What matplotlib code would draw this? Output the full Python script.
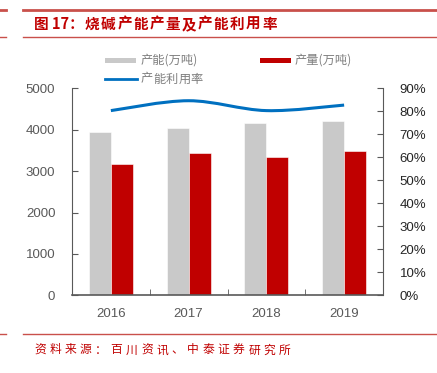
import matplotlib.pyplot as plt
from matplotlib.lines import Line2D
from matplotlib.patches import Rectangle, PathPatch
from matplotlib.path import Path
from matplotlib.ticker import FuncFormatter

plt.rcParams['font.family'] = ['Liberation Sans', 'Noto Sans CJK SC', 'DejaVu Sans']

years = ['2016', '2017', '2018', '2019']
capacity = [3952, 4048, 4155, 4217]      # 产能(万吨)
output = [3179, 3430, 3333, 3486]        # 产量(万吨)
utilization = [0.803, 0.846, 0.803, 0.827]  # 产能利用率

W, H = 437, 373
fig = plt.figure(figsize=(W / 100, H / 100), dpi=100)

def fx(px):
    return px / W

def fy(py):
    return 1 - py / H

cn = ['Noto Sans CJK SC', 'DejaVu Sans']
red_line = '#C9504B'
red_text = '#C00000'


def spaced(x0, y, s, step, **kw):
    # put each character at a fixed pixel advance, like the wide spacing in the source
    for i, ch in enumerate(s):
        fig.text(fx(x0 + i * step), fy(y), ch, family=cn, va='center', ha='left', **kw)


# header / footer rules
for y, lw in [(10, 2.0), (37, 1.0), (334, 1.0)]:
    fig.add_artist(Line2D([fx(23), fx(436)], [fy(y), fy(y)], color=red_line, lw=lw))
    fig.add_artist(Line2D([fx(0), fx(6)], [fy(y), fy(y)], color=red_line, lw=lw))

fig.text(fx(34), fy(24), '图 17：', family=cn, fontsize=10.5,
         fontweight='bold', color=red_text, va='center', ha='left')
spaced(85, 24, '烧碱产能产量及产能利用率', 16.1, fontsize=10.5, fontweight='bold', color=red_text)
spaced(34, 350, '资料来源：百川资讯、中泰证券研究所', 15.3, fontsize=8.5, color=red_text)

# legend
fig.add_artist(Rectangle((fx(105), fy(62.5)), fx(31), 5 / H, color='#C9C9C9', lw=0))
fig.text(fx(141), fy(60), '产能(万吨)', family=cn, fontsize=8.8, color='#7F7F7F', va='center')
fig.add_artist(Rectangle((fx(260), fy(62.5)), fx(31), 5 / H, color='#C00000', lw=0))
fig.text(fx(295), fy(60), '产量(万吨)', family=cn, fontsize=8.8, color='#7F7F7F', va='center')
fig.add_artist(Line2D([fx(105), fx(137)], [fy(79), fy(79)], color='#0070C0', lw=2))
spaced(141, 79, '产能利用率', 12.4, fontsize=8.8, color='#7F7F7F')

ax = fig.add_axes([fx(72), fy(295.3), fx(383 - 72), (295.3 - 88.3) / H])
x = list(range(len(years)))
bw = 0.283
ax.bar([i - bw / 2 for i in x], capacity, bw, color='#C9C9C9', edgecolor='white', lw=0.4)
ax.bar([i + bw / 2 for i in x], output, bw, color='#C00000', edgecolor='white', lw=0.4)
ax.set_xlim(-0.5, 3.5)
ax.set_ylim(0, 5000)
ax.set_yticks(range(0, 5001, 1000))
ax.set_xticks(x)
ax.set_xticklabels(years)
ax.set_xticks([-0.5, 0.5, 1.5, 2.5, 3.5], minor=True)
ax.tick_params(axis='x', which='major', length=0, labelsize=9.5, labelcolor='#595959', pad=9)
ax.tick_params(axis='x', which='minor', direction='in', length=4, color='#595959')
ax.tick_params(axis='y', direction='in', length=4, color='#595959', labelsize=9.5,
               labelcolor='#595959', pad=12)
for s in ['top', 'right']:
    ax.spines[s].set_visible(False)
for s in ['left', 'bottom']:
    ax.spines[s].set_color('#595959')
ax.spines['bottom'].set_linewidth(1.2)

ax2 = ax.twinx()
ax2.set_ylim(0, 0.9)
ax2.set_yticks([i / 10 for i in range(10)])
ax2.yaxis.set_major_formatter(FuncFormatter(lambda v, p: f'{round(v * 100)}%'))
ax2.tick_params(axis='y', direction='in', length=4, color='#595959', labelsize=9.5,
                labelcolor='#262626', pad=12)
for s in ['top', 'left', 'bottom']:
    ax2.spines[s].set_visible(False)
ax2.spines['right'].set_color('#595959')

# smoothed line (Catmull-Rom style bezier through the points)
pts = list(zip(x, utilization))
verts = [pts[0]]
codes = [Path.MOVETO]
for i in range(len(pts) - 1):
    p0 = pts[i - 1] if i > 0 else pts[i]
    p1 = pts[i]
    p2 = pts[i + 1]
    p3 = pts[i + 2] if i + 2 < len(pts) else pts[i + 1]
    c1 = (p1[0] + (p2[0] - p0[0]) / 6, p1[1] + (p2[1] - p0[1]) / 6)
    c2 = (p2[0] - (p3[0] - p1[0]) / 6, p2[1] - (p3[1] - p1[1]) / 6)
    verts += [c1, c2, p2]
    codes += [Path.CURVE4] * 3
ax2.add_patch(PathPatch(Path(verts, codes), fill=False, edgecolor='#0070C0', lw=2.2))

fig.savefig('out.png', dpi=100)
